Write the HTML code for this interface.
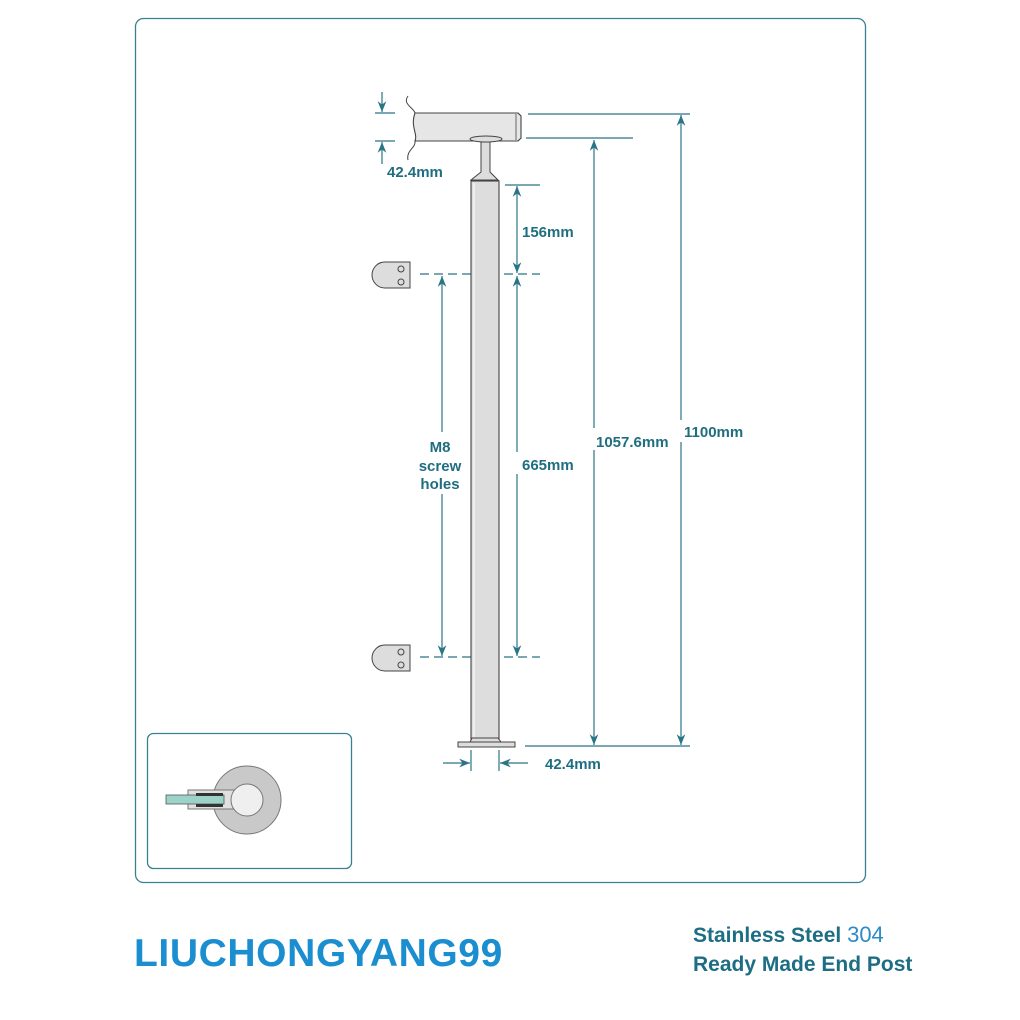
<!DOCTYPE html>
<html><head><style>
html,body{margin:0;padding:0;background:#fff;}
svg{display:block;}
text{font-family:"Liberation Sans",sans-serif;}
</style></head><body>
<svg width="1020" height="1020" viewBox="0 0 1020 1020" xmlns="http://www.w3.org/2000/svg">
<defs>
<marker id="a" viewBox="0 0 10 10" refX="10" refY="5" markerWidth="9" markerHeight="9" orient="auto-start-reverse"><path d="M0,1 L10,5 L0,9 L3,5 z" fill="#2a7585"/></marker>
</defs>
<rect x="135.5" y="18.5" width="730" height="864" rx="8" fill="#fff" stroke="#3a8090" stroke-width="1.3"/>
<rect x="147.5" y="733.5" width="204" height="135" rx="6" fill="#fff" stroke="#3a8090" stroke-width="1.3"/>
<g stroke="#2a7585" stroke-width="1.2" fill="none">
<line x1="375" y1="113" x2="395" y2="113"/><line x1="375" y1="141" x2="395" y2="141"/>
<line x1="382" y1="92" x2="382" y2="112" marker-end="url(#a)"/>
<line x1="382" y1="164" x2="382" y2="142" marker-end="url(#a)"/>
<line x1="528" y1="114" x2="690" y2="114"/>
<line x1="526" y1="138" x2="633" y2="138"/>
<line x1="525" y1="746" x2="690" y2="746"/>
<line x1="505" y1="185" x2="540" y2="185"/>
<line x1="517" y1="186" x2="517" y2="273" marker-start="url(#a)" marker-end="url(#a)"/>
<line x1="517" y1="276" x2="517" y2="656" marker-start="url(#a)" marker-end="url(#a)"/>
<line x1="442" y1="276" x2="442" y2="656" marker-start="url(#a)" marker-end="url(#a)"/>
<line x1="594" y1="140" x2="594" y2="745" marker-start="url(#a)" marker-end="url(#a)"/>
<line x1="681" y1="115" x2="681" y2="745" marker-start="url(#a)" marker-end="url(#a)"/>
<line x1="420" y1="274" x2="540" y2="274" stroke-dasharray="9,5"/>
<line x1="420" y1="657" x2="540" y2="657" stroke-dasharray="9,5"/>
<line x1="471" y1="750" x2="471" y2="771"/><line x1="499" y1="750" x2="499" y2="771"/>
<line x1="443" y1="763" x2="470" y2="763" marker-end="url(#a)"/>
<line x1="528" y1="763" x2="500" y2="763" marker-end="url(#a)"/>
</g>
<path d="M408,96 C402,104 414,108 415,113 L518,113 L521,116 L521,138 L518,141 L415,141 C416,148 406,150 408,160" fill="none" stroke="#444" stroke-width="1"/>
<path d="M415,113 L518,113 L521,116 L521,138 L518,141 L415,141 C418,134 410,126 415,113 z" fill="#e6e6e6" stroke="#444" stroke-width="1.1"/>
<line x1="516" y1="114" x2="516" y2="140" stroke="#666"/>
<path d="M481,142 L490,142 L490,172 L498,180 L471,180 L481,172 z" fill="#ddd" stroke="#444" stroke-width="1"/>
<ellipse cx="486" cy="139" rx="16" ry="3" fill="#ddd" stroke="#444" stroke-width="1"/>
<rect x="471" y="181" width="28" height="558" fill="#ddd" stroke="#444" stroke-width="1.1"/>
<line x1="474" y1="183" x2="474" y2="737" stroke="#f4f4f4" stroke-width="1.5"/>
<path d="M472,738 L498,738 L501,742 L470,742 z" fill="#ddd" stroke="#444"/>
<rect x="458" y="742" width="57" height="5" fill="#ddd" stroke="#444"/>
<g fill="#ddd" stroke="#444" stroke-width="1">
<path d="M410,262 L385,262 A13,13 0 0 0 385,288 L410,288 z"/>
<path d="M410,645 L385,645 A13,13 0 0 0 385,671 L410,671 z"/>
<circle cx="401" cy="269" r="3"/><circle cx="401" cy="282" r="3"/>
<circle cx="401" cy="652" r="3"/><circle cx="401" cy="665" r="3"/>
</g>
<circle cx="247" cy="800" r="34" fill="#c9c9c9" stroke="#777"/>
<rect x="188" y="790" width="50" height="19" fill="#e0e0e0" stroke="#777"/>
<rect x="166" y="795" width="58" height="9" fill="#9cd3c9" stroke="#555" stroke-width="0.8"/>
<rect x="196" y="793" width="27" height="3" fill="#333"/><rect x="196" y="804" width="27" height="3" fill="#333"/>
<circle cx="247" cy="800" r="16" fill="#efefef" stroke="#777"/>
<g fill="#1f6e80" font-size="15" font-weight="bold">
<text x="387" y="177">42.4mm</text>
<text x="522" y="237">156mm</text>
<rect x="515" y="452" width="6" height="22" fill="#fff"/>
<text x="522" y="470">665mm</text>
<rect x="590" y="428" width="8" height="22" fill="#fff"/>
<text x="596" y="447">1057.6mm</text>
<rect x="678" y="420" width="8" height="22" fill="#fff"/>
<text x="684" y="437">1100mm</text>
<rect x="413" y="432" width="56" height="62" fill="#fff"/>
<text x="440" y="452" text-anchor="middle">M8</text>
<text x="440" y="471" text-anchor="middle">screw</text>
<text x="440" y="489" text-anchor="middle">holes</text>
<text x="545" y="769">42.4mm</text>
</g>
<text x="134" y="966" font-size="39" font-weight="bold" fill="#1b8ed0" letter-spacing="0.6">LIUCHONGYANG99</text>
<text x="693" y="942" font-size="21" font-weight="bold" fill="#1d6d84">Stainless Steel <tspan fill="#2b8bc6" font-weight="normal" font-size="22">304</tspan></text>
<text x="693" y="971" font-size="21" font-weight="bold" fill="#1d6d84">Ready Made End Post</text>
</svg>
</body></html>
